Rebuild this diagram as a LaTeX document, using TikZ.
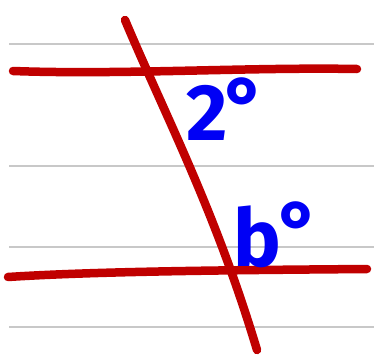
\documentclass[tikz,border=0pt]{standalone}
\usepackage{fontspec}
\setsansfont{Fira Sans}
\usetikzlibrary{positioning}
\definecolor{rulegray}{RGB}{200, 200, 200}
\definecolor{linered}{RGB}{192, 0, 0}
\definecolor{inkblue}{RGB}{0, 0, 245}

\begin{document}
\begin{tikzpicture}[
    x=1pt, y=-1pt, % 与图片像素一致，y 向下
    font=\sffamily,
    % 样式定义
    ruling/.style={draw=rulegray, line width=1.3pt},
    redline/.style={draw=linered, line width=8.5pt, line cap=round, line join=round},
    anglabel/.style={text=inkblue, font=\sffamily\bfseries\fontsize{80}{80}\selectfont, inner sep=0pt, anchor=base west}
]

% 画布范围
\useasboundingbox (0, 0) rectangle (374, 356);

% ==========================================
% 1. 背景横线 (作业纸的格线)
% ==========================================
\foreach \yy in {44, 166, 247, 327} {
    \draw[ruling] (9, \yy) -- (374, \yy);
}

% ==========================================
% 2. 两条平行线与截线
% ==========================================
\draw[redline] (13, 71) .. controls (120, 75) and (250, 67) .. (357, 69);
\draw[redline] (8, 277) .. controls (100, 271) and (250, 270) .. (367, 269);
\draw[redline] (125, 20) .. controls (165, 115) and (215, 210) .. (257, 350);

% ==========================================
% 3. 角的标注
% ==========================================
\node[anglabel] (ang_a) at (186, 140) {2\kern-3pt\raisebox{6pt}{°}};
\node[anglabel] (ang_b) at (233, 266) {b\kern-2pt\raisebox{8pt}{°}};

\end{tikzpicture}
\end{document}
